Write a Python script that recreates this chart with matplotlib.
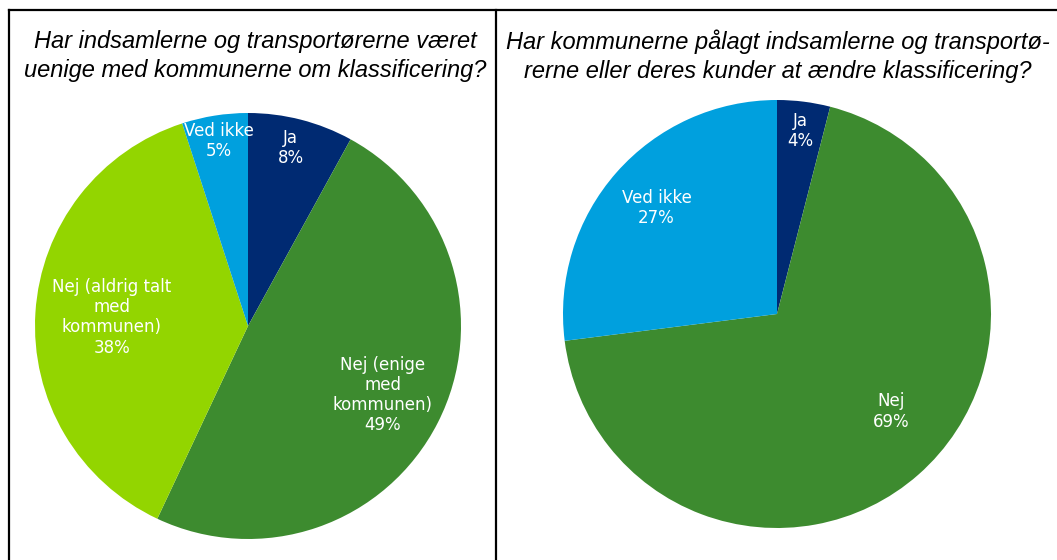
import numpy as np
import matplotlib
matplotlib.use("Agg")
import matplotlib.pyplot as plt
from matplotlib.lines import Line2D

# --- Survey answers ---
left_title = "Har indsamlerne og transportørerne været\nuenige med kommunerne om klassificering?"
left_labels = ["Ja", "Nej (enige\nmed\nkommunen)", "Nej (aldrig talt\nmed\nkommunen)", "Ved ikke"]
left_values = [8, 49, 38, 5]

right_title = "Har kommunerne pålagt indsamlerne og transportø-\nrerne eller deres kunder at ændre klassificering?"
right_labels = ["Ja", "Nej", "Ved ikke"]
right_values = [4, 69, 27]

NAVY = "#002a72"
GREEN = "#3d8b2f"
LIME = "#93d500"
BLUE = "#00a0de"

left_colors = [NAVY, GREEN, LIME, BLUE]
right_colors = [NAVY, GREEN, BLUE]

# radial position of each label (fraction of radius) and angular nudge (deg)
left_label_r = [0.86, 0.71, 0.64, 0.88]
left_label_shift = [1, 0, 0, 0]
right_label_r = [0.86, 0.70, 0.75]
right_label_shift = [0, 8, 0]


def draw_pie(ax, values, labels, colors, label_r, shift):
    wedges, _ = ax.pie(values, colors=colors, startangle=90, counterclock=False,
                       radius=1.0, wedgeprops=dict(linewidth=0))
    for i, (w, lab, v) in enumerate(zip(wedges, labels, values)):
        ang = np.deg2rad((w.theta1 + w.theta2) / 2 + shift[i])
        r = label_r[i]
        ax.text(r * np.cos(ang), r * np.sin(ang), f"{lab}\n{v}%",
                ha="center", va="center", color="white", fontsize=12,
                family="DejaVu Sans", linespacing=1.15)
    ax.set_xlim(-1, 1)
    ax.set_ylim(-1, 1)
    ax.set_aspect("equal")
    ax.axis("off")


W, H = 1057, 560
fig = plt.figure(figsize=(W / 100, H / 100), dpi=100)

ax1 = fig.add_axes([35 / W, (H - 539) / H, 426 / W, 426 / H])
draw_pie(ax1, left_values, left_labels, left_colors, left_label_r, left_label_shift)

ax2 = fig.add_axes([563 / W, (H - 528) / H, 428 / W, 428 / H])
draw_pie(ax2, right_values, right_labels, right_colors, right_label_r, right_label_shift)

title_kw = dict(ha="center", va="center", fontsize=17, style="italic",
                family="Liberation Sans", color="black", linespacing=1.32)
fig.text(255 / W, 1 - 56 / H, left_title, **title_kw)
fig.text(778 / W, 1 - 56 / H, right_title, **title_kw)

# panel frame
frame_kw = dict(color="black", linewidth=1.6, transform=fig.transFigure)
fig.add_artist(Line2D([9 / W, 1], [1 - 10 / H, 1 - 10 / H], **frame_kw))
fig.add_artist(Line2D([9 / W, 9 / W], [0, 1 - 10 / H], **frame_kw))
fig.add_artist(Line2D([496 / W, 496 / W], [0, 1 - 10 / H], **frame_kw))

fig.savefig("out.png", dpi=100)
